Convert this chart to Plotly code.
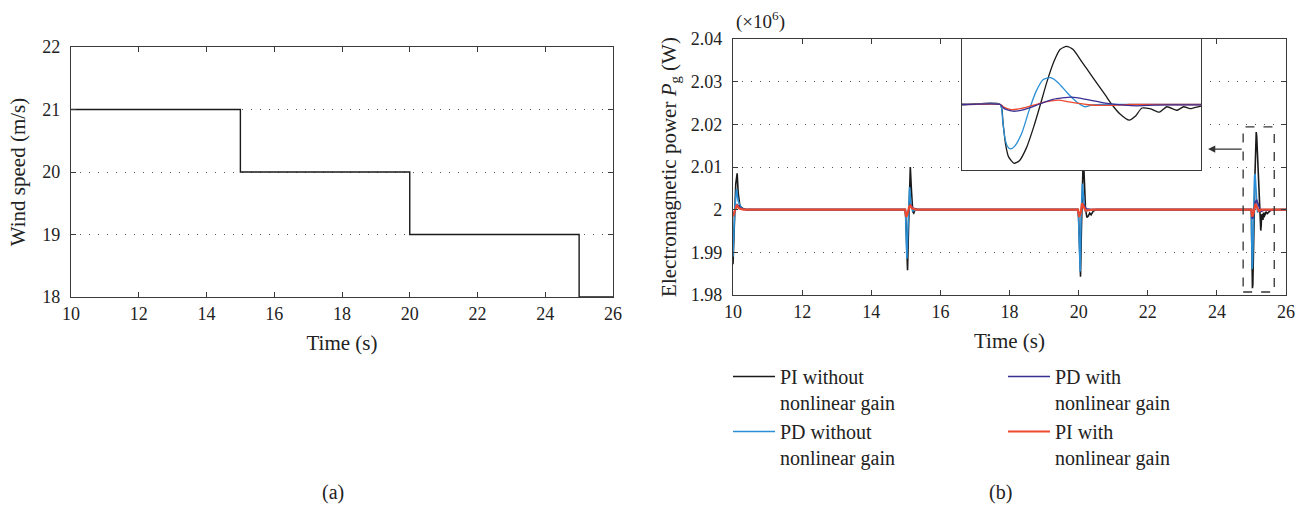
import plotly.graph_objects as go

# ---------------- data ----------------
# (a) wind speed steps
wind_t = [10, 15, 20, 25, 26]
wind_v = [21, 20, 19, 18, 18]

# (b) generator power (x10^6 W); each series lists the 10 s, 15 s, 20 s and 25 s transients
t_pi_wo = [10.0, 10.03, 10.08, 10.12, 10.15, 10.2, 10.3, 10.4,
           14.98, 15.0, 15.03, 15.05, 15.08, 15.11, 15.13, 15.16, 15.2, 15.23, 15.28, 15.35,
           19.98, 20.0, 20.03, 20.055, 20.08, 20.11, 20.135, 20.16, 20.2, 20.24, 20.28, 20.32, 20.36, 20.42, 20.5,
           24.92, 25.0, 25.006, 25.011, 25.0175, 25.029, 25.04, 25.055, 25.07, 25.084, 25.0975, 25.1125,
           25.125, 25.139, 25.1525, 25.17, 25.195, 25.22, 25.2335, 25.25, 25.27, 25.2825, 25.2965, 25.315,
           25.333, 25.3485, 25.37, 25.3835, 25.3975, 25.42, 25.46, 25.52, 25.6, 26.0]
p_pi_wo = [1.9872, 1.996, 2.006, 2.0085, 2.004, 2.0008, 2.0002, 2.0,
           2.0, 1.998, 1.987, 1.9858, 1.996, 2.0075, 2.0100, 2.005, 1.9995, 1.9992, 2.0002, 2.0,
           2.0, 1.998, 1.988, 1.9843, 1.995, 2.009, 2.013, 2.008, 2.0, 1.9982, 1.9985, 1.9992, 1.9988, 1.9996, 2.0,
           2.0, 2.0, 1.9939, 1.9877, 1.9836, 1.9816, 1.9824, 1.9865, 1.9930, 2.0, 2.0070, 2.0135,
           2.0172, 2.0182, 2.0172, 2.0135, 2.0082, 2.0029, 2.0, 1.9971, 1.9951, 1.9963, 1.9989, 1.9986,
           1.9976, 1.9993, 1.9982, 1.9993, 1.9987, 1.9995, 1.9991, 1.9996, 2.0, 2.0]

t_pd_wo = [10.0, 10.05, 10.1, 10.15, 10.25, 10.4,
           14.99, 15.01, 15.03, 15.06, 15.09, 15.11, 15.15, 15.2, 15.3,
           19.99, 20.02, 20.045, 20.07, 20.09, 20.11, 20.15, 20.2, 20.3,
           24.92, 25.0, 25.005, 25.01, 25.015, 25.0215, 25.03, 25.045, 25.06, 25.075, 25.09, 25.1055,
           25.12, 25.14, 25.16, 25.1775, 25.19, 25.21, 26.0]
p_pd_wo = [1.989, 2.0, 2.0048, 2.002, 2.0003, 2.0,
           2.0, 1.993, 1.9885, 1.995, 2.004, 2.0053, 2.001, 1.9997, 2.0,
           2.0, 1.992, 1.9855, 1.998, 2.005, 2.0061, 2.002, 1.9996, 2.0,
           2.0, 2.0, 1.9951, 1.9893, 1.9869, 1.9861, 1.9869, 1.9910, 1.9980, 2.0041, 2.0078, 2.0084,
           2.0070, 2.0037, 2.0008, 1.9993, 1.9998, 2.0, 2.0]

t_pd_w = [10.0, 10.12, 10.25, 10.4,
          14.98, 15.02, 15.07, 15.14, 15.22, 15.35,
          19.98, 20.02, 20.07, 20.13, 20.22, 20.4,
          24.92, 25.0, 25.0075, 25.027, 25.05, 25.08, 25.11, 25.1495, 25.18, 25.22, 25.26, 25.285,
          25.32, 25.37, 26.0]
p_pd_w = [1.9986, 2.0012, 2.0002, 2.0,
          2.0, 1.9985, 1.9995, 2.0012, 2.0003, 2.0,
          2.0, 1.9985, 1.9997, 2.0014, 2.0002, 2.0,
          2.0, 2.0, 1.9988, 1.9979, 1.9984, 2.0, 2.0016, 2.0023, 2.0016, 2.0004, 1.9998, 1.9996,
          1.9998, 1.9999, 2.0]

t_pi_w = [10.0, 10.06, 10.11, 10.17, 10.3,
          14.98, 15.01, 15.05, 15.1, 15.13, 15.18, 15.3,
          19.98, 20.02, 20.06, 20.1, 20.15, 20.2, 20.4,
          24.92, 25.0, 25.0075, 25.0235, 25.045, 25.07, 25.095, 25.1215, 25.145, 25.18, 25.215,
          25.245, 25.27, 26.0]
p_pi_w = [1.9984, 2.0002, 2.0011, 2.0003, 2.0,
          2.0, 1.9983, 1.999, 2.0008, 2.001, 2.0003, 2.0,
          2.0, 1.9983, 1.9993, 2.0015, 2.0006, 1.9998, 2.0,
          2.0, 2.0, 1.9992, 1.9984, 1.9988, 1.9998, 2.0008, 2.0014, 2.0008, 2.0, 1.9997,
          1.9998, 2.0, 2.0]

series_names = ["PI without<br>nonlinear gain", "PD without<br>nonlinear gain",
                "PD with<br>nonlinear gain", "PI with<br>nonlinear gain"]
series_colors = ["#1a1a1a", "#2a8fd6", "#3a2f92", "#ee4a2f"]
series_legend = ["legend", "legend", "legend2", "legend2"]

x_ticks = [10, 12, 14, 16, 18, 20, 22, 24, 26]
wind_ticks = [18, 19, 20, 21, 22]
pow_ticks = [1.98, 1.99, 2.0, 2.01, 2.02, 2.03, 2.04]
pow_ticklabels = ["1.98", "1.99", "2", "2.01", "2.02", "2.03", "2.04"]

zoom_box = dict(t0=24.76, t1=25.66, p0=1.9807, p1=2.0194)
inset_t_range = [24.92, 25.42]
inset_p_range = [1.9795, 2.0205]

# ---------------- figure ----------------
W, H = 1311, 510
FONT = "Liberation Serif"
AX = "#3a3a3a"
TXT = "#222"

fig = go.Figure()

fig.add_trace(go.Scatter(x=wind_t, y=wind_v, mode="lines", line=dict(color="#1a1a1a", width=1.4, shape="hv"),
                         showlegend=False, xaxis="x", yaxis="y"))

T = [t_pi_wo, t_pd_wo, t_pd_w, t_pi_w]
P = [p_pi_wo, p_pd_wo, p_pd_w, p_pi_w]
widths = [1.6, 1.6, 1.6, 2.2]
for i, (t, p, n, c, lg, w) in enumerate(zip(T, P, series_names, series_colors, series_legend, widths)):
    fig.add_trace(go.Scatter(x=t, y=p, mode="lines", name=n, legend=lg, legendgroup=f"g{i}",
                             line=dict(color=c, width=w), xaxis="x2", yaxis="y2"))
inset_order = [0, 1, 3, 2]
for i in inset_order:
    fig.add_trace(go.Scatter(x=T[i], y=P[i], mode="lines", showlegend=False,
                             line=dict(color=series_colors[i], width=1.3, shape="spline", smoothing=0.6),
                             xaxis="x3", yaxis="y3"))

def px_x(v):
    return v / W

def px_y(v):
    return 1 - v / H

common = dict(showline=True, linecolor=AX, linewidth=1.2, mirror="ticks", ticks="inside",
              ticklen=5, tickcolor=AX, tickwidth=1, zeroline=False, automargin=False,
              tickfont=dict(family=FONT, size=18, color=TXT))
grid = dict(showgrid=True, gridcolor="#555", griddash="1px,8px", gridwidth=1)
title_font = dict(family=FONT, size=21, color=TXT)
legend_common = dict(orientation="v", xanchor="left", yanchor="top", valign="top", tracegroupgap=0,
                     itemwidth=42, font=dict(family=FONT, size=20, color=TXT), bgcolor="rgba(0,0,0,0)")

fig.update_layout(
    width=W, height=H, margin=dict(l=0, r=0, t=0, b=0, autoexpand=False),
    paper_bgcolor="white", plot_bgcolor="white",
    font=dict(family=FONT, size=18, color=TXT),
    xaxis=dict(domain=[px_x(71), px_x(613)], range=[10, 26], tickvals=x_ticks, showgrid=False,
               title=dict(text="Time (s)", standoff=12, font=title_font), anchor="y", **common),
    yaxis=dict(domain=[px_y(297), px_y(47)], range=[18, 22], tickvals=wind_ticks, anchor="x",
               title=dict(text="Wind speed (m/s)", standoff=10, font=title_font),
               ticklabelstandoff=6, **grid, **common),
    xaxis2=dict(domain=[px_x(733), px_x(1286)], range=[10, 26], tickvals=x_ticks, showgrid=False,
                title=dict(text="Time (s)", standoff=12, font=title_font), anchor="y2", **common),
    yaxis2=dict(domain=[px_y(295), px_y(39)], range=[1.98, 2.04], tickvals=pow_ticks, ticktext=pow_ticklabels,
                anchor="x2", ticklabelstandoff=6,
                title=dict(text="Electromagnetic power <i>P</i><sub>g</sub> (W)", standoff=8, font=title_font),
                **grid, **common),
    xaxis3=dict(domain=[px_x(962), px_x(1201)], range=inset_t_range, anchor="y3", showticklabels=False,
                ticks="", showgrid=False, zeroline=False, showline=True, mirror=True, linecolor=AX, linewidth=1.2),
    yaxis3=dict(domain=[px_y(170), px_y(39)], range=inset_p_range, anchor="x3", showticklabels=False,
                ticks="", showgrid=False, zeroline=False, showline=True, mirror=True, linecolor=AX, linewidth=1.2),
    legend=dict(x=px_x(728), y=px_y(357), **legend_common),
    legend2=dict(x=px_x(1003), y=px_y(357), **legend_common),
    shapes=[
        dict(type="rect", xref="x3 domain", yref="y3 domain", x0=0, x1=1, y0=0, y1=1,
             fillcolor="white", line=dict(width=0), layer="below"),
        dict(type="rect", xref="x2", yref="y2", x0=zoom_box["t0"], x1=zoom_box["t1"],
             y0=zoom_box["p0"], y1=zoom_box["p1"], line=dict(color="#333", width=1.3, dash="dash")),
    ],
    annotations=[
        dict(text="(×10<sup>6</sup>)", xref="paper", yref="paper", x=px_x(760), y=px_y(21),
             xanchor="center", yanchor="middle", showarrow=False, font=dict(family=FONT, size=19, color=TXT)),
        dict(text="(a)", xref="paper", yref="paper", x=px_x(333), y=px_y(492), showarrow=False,
             xanchor="center", yanchor="middle", font=dict(family=FONT, size=20, color=TXT)),
        dict(text="(b)", xref="paper", yref="paper", x=px_x(1000), y=px_y(492), showarrow=False,
             xanchor="center", yanchor="middle", font=dict(family=FONT, size=20, color=TXT)),
        dict(text="", xref="x2", yref="y2", x=23.745, y=2.0142, axref="x2", ayref="y2",
             ax=zoom_box["t0"], ay=2.0142, showarrow=True, arrowhead=2, arrowsize=1.2,
             arrowwidth=1.2, arrowcolor="#333"),
    ],
)

fig.write_html("out.html")
